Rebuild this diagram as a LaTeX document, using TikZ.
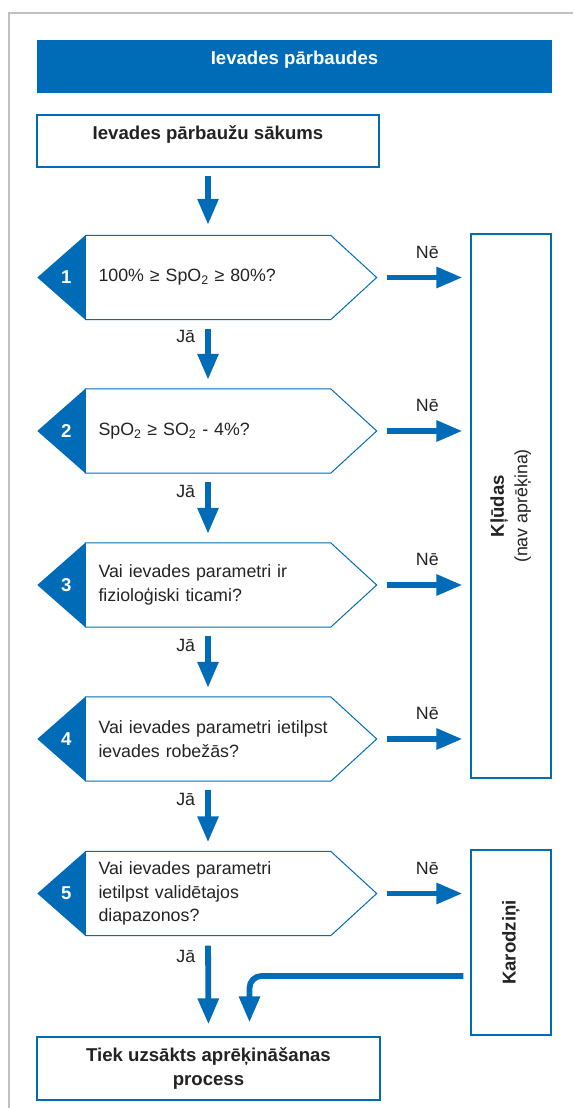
\documentclass[tikz,border=0pt]{standalone}
\usepackage{fontspec}
\setmainfont{Liberation Sans}
\usetikzlibrary{arrows.meta,calc}
\definecolor{rblue}{RGB}{0,108,183}
\definecolor{ink}{RGB}{35,35,35}
\definecolor{framegray}{RGB}{192,192,192}

\begin{document}
\begin{tikzpicture}[x=1pt,y=-1pt,
  font=\fontsize{17.8}{23.5}\selectfont, text=ink,
  boldfont/.style={font=\fontsize{18.6}{23.5}\selectfont\bfseries},
  box/.style={draw=rblue, line width=1.2pt, fill=white, inner sep=0pt},
  headbox/.style={fill=rblue, text=white, inner sep=0pt, boldfont},
  qbody/.style={inner xsep=13pt, inner ysep=0pt, minimum width=245pt, minimum height=84pt,
                text width=219pt, align=left},
  qline/.style={draw=rblue, line width=1pt},
  numlabel/.style={text=white, inner sep=0pt, boldfont},
  arr/.style={draw=rblue, line width=5.8pt, -{Triangle[width=20pt,length=26pt]}},
  yes/.style={inner sep=0pt, left=10pt},
  no/.style={inner sep=0pt, above=16pt},
]
\useasboundingbox (0,0) rectangle (573,1108);

% outer frame
\draw[framegray, line width=1.5pt] (573,13) -- (9,13) -- (9,1108);

% header and start
\node[headbox, minimum width=515pt, text height=25pt, text depth=28pt] (head) at (294.5,66.5) {Ievades pārbaudes};
\node[box, minimum width=342pt, text height=24pt, text depth=28pt, boldfont] (start) at (208,141) {Ievades pārbaužu sākums};

% decisions (long lines may run into the pointed end)
\node[qbody] (d1) at (208,277.5) {100\% ≥ SpO\textsubscript{2} ≥ 80\%?};
\node[qbody] (d2) at (208,431) {SpO\textsubscript{2} ≥ SO\textsubscript{2} - 4\%?};
\node[qbody] (d3) at (208,585) {Vai ievades parametri ir\\fizioloģiski ticami?};
\node[qbody] (d4) at (208,739) {\mbox{Vai ievades parametri ietilpst}\\ievades robežās?};
\node[qbody] (d5) at (208,893.5) {Vai ievades parametri\\ietilpst validētajos\\diapazonos?};

\foreach \d/\n in {d1/1,d2/2,d3/3,d4/4,d5/5}{
  \draw[qline] (\d.north west) -- (\d.north east) -- ($(\d.east)+(46,0)$) coordinate (t\n)
     -- (\d.south east) -- (\d.south west) -- cycle;
  \fill[rblue] (\d.north west) -- ($(\d.west)+(-48,0)$) -- (\d.south west) -- cycle;
  \node[numlabel] (num\n) at ($(\d.west)+(-19,0)$) {\n};
}

% outcome boxes
\node[box, minimum width=80pt, minimum height=544pt] (err) at (511,506)
  {\rotatebox{90}{\begin{tabular}{@{}c@{}}{\fontsize{18.6}{23.5}\selectfont\bfseries Kļūdas}\\(nav aprēķina)\end{tabular}}};
\node[box, minimum width=80pt, minimum height=185pt] (flag) at (511,942.5)
  {\rotatebox{90}{\fontsize{18.6}{23.5}\selectfont\bfseries Karodziņi}};
\node[box, minimum width=343pt, minimum height=63pt, align=center, boldfont] (calc) at (208.5,1068.5)
  {Tiek uzsākts aprēķināšanas\\process};

% flow downwards
\draw[arr, shorten <=8pt, shorten >=10.5pt] (start.south) -- (d1.north);
\draw[arr, shorten <=9pt, shorten >=9pt] (d1.south) -- node[yes, pos=0.24] (y1) {Jā} (d2.north);
\draw[arr, shorten <=9pt, shorten >=9pt] (d2.south) -- node[yes, pos=0.26] (y2) {Jā} (d3.north);
\draw[arr, shorten <=9pt, shorten >=9pt] (d3.south) -- node[yes, pos=0.26] (y3) {Jā} (d4.north);
\draw[arr, shorten <=9pt, shorten >=9pt] (d4.south) -- node[yes, pos=0.26] (y4) {Jā} (d5.north);
\draw[arr, shorten <=10pt, shorten >=12pt] (d5.south) -- node[yes, pos=0.21] (y5) {Jā} (calc.north);

% "no" branches
\foreach \n in {1,2,3,4}{
  \draw[arr, shorten <=10pt, shorten >=8pt] (t\n) -- node[no, pos=0.54] (n\n) {Nē} (t\n -| err.west);
}
\draw[arr, shorten <=10pt, shorten >=8pt] (t5) -- node[no, pos=0.54] (n5) {Nē} (t5 -| flag.west);

% warnings still lead to the calculation
\draw[arr, rounded corners=12pt, shorten <=7pt, shorten >=14pt]
  ($(flag.west)+(0,33.5)$) -| ($(calc.north)+(41,0)$);
\end{tikzpicture}
\end{document}
